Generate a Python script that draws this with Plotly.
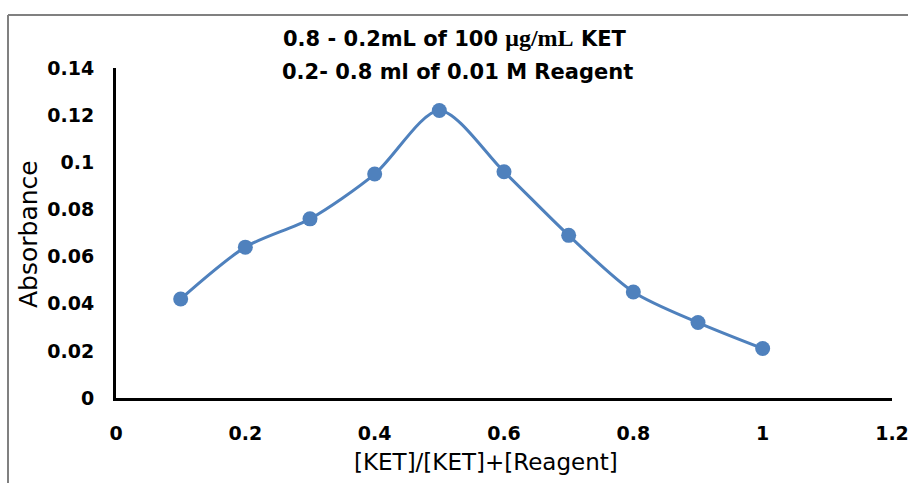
import plotly.graph_objects as go

x_vals = [0.1, 0.2, 0.3, 0.4, 0.5, 0.6, 0.7, 0.8, 0.9, 1.0]
absorbance = [0.042, 0.064, 0.076, 0.095, 0.122, 0.096, 0.069, 0.045, 0.032, 0.021]
x_ticks = [0, 0.2, 0.4, 0.6, 0.8, 1, 1.2]
y_ticks = [0, 0.02, 0.04, 0.06, 0.08, 0.1, 0.12, 0.14]
title_line1 = "0.8 - 0.2mL of 100 <span style='font-family:Liberation Serif;font-size:24px'>μg/mL</span> KET"
title_line2 = "0.2- 0.8 ml of 0.01 M Reagent"
x_title = "[KET]/[KET]+[Reagent]"
y_title = "Absorbance"

W, H = 908, 483
L, R, T, B = 116, 16, 68, 85
pw, ph = W - L - R, H - T - B

def px(xp):
    return (xp - L) / pw

def py(yp):
    return (H - B - yp) / ph

blue = "#4F81BD"

fig = go.Figure()
fig.add_trace(go.Scatter(
    x=x_vals, y=absorbance, mode="lines+markers",
    line=dict(color=blue, width=3, shape="spline", smoothing=0.8),
    marker=dict(color=blue, size=15),
    showlegend=False,
))

tickfont = dict(family="DejaVu Sans", size=19, color="black", weight="bold")
fig.update_layout(
    width=W, height=H,
    margin=dict(l=L, r=R, t=T, b=B, autoexpand=False),
    paper_bgcolor="white", plot_bgcolor="white",
    font=dict(family="DejaVu Sans", color="black"),
    xaxis=dict(range=[0, 1.2], tickvals=x_ticks, ticktext=[str(v) for v in x_ticks],
               showgrid=False, zeroline=False, showline=True, linecolor="black",
               linewidth=3, ticks="", ticklabelstandoff=16, tickfont=tickfont,
               ticklabeloverflow="allow"),
    yaxis=dict(range=[0, 0.14], tickvals=y_ticks, ticktext=[str(v) for v in y_ticks],
               showgrid=False, zeroline=False, showline=True, linecolor="black",
               linewidth=3, ticks="", ticklabelstandoff=15, tickfont=tickfont,
               ticklabeloverflow="allow"),
)

annotations = [
    dict(text="<b>" + title_line1 + "</b>", x=px(455), y=py(38), font=dict(size=21)),
    dict(text="<b>" + title_line2 + "</b>", x=px(457), y=py(72), font=dict(size=21)),
    dict(text=x_title, x=px(486), y=py(462), font=dict(size=23)),
    dict(text=y_title, x=px(28), y=py(234), font=dict(size=25), textangle=-90),
]
for a in annotations:
    a.update(xref="paper", yref="paper", showarrow=False, xanchor="center", yanchor="middle")
fig.update_layout(annotations=annotations)

gray = "#808080"
fig.add_shape(type="line", xref="paper", yref="paper", x0=px(8), x1=px(W + 2), y0=py(15), y1=py(15),
              line=dict(color=gray, width=2))
fig.add_shape(type="line", xref="paper", yref="paper", x0=px(8), x1=px(8), y0=py(15), y1=py(H + 2),
              line=dict(color=gray, width=2))

fig.write_html("out.html", config={"displayModeBar": False},
               post_script="document.body.style.margin='0';")
